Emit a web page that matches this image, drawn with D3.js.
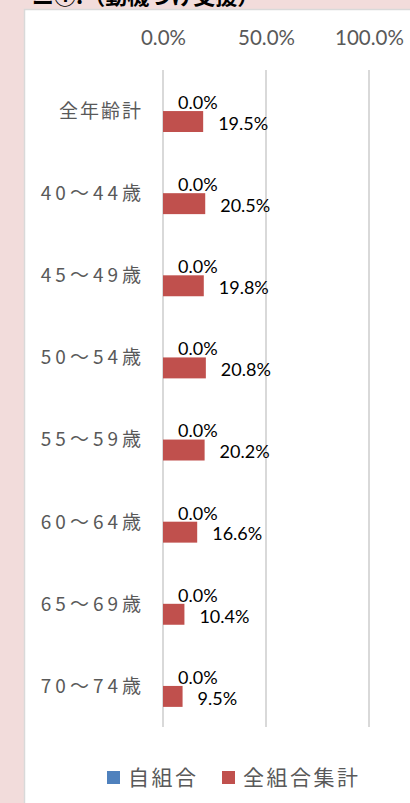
<!DOCTYPE html>
<html>
<head>
<meta charset="utf-8">
<script src="https://cdn.jsdelivr.net/npm/d3@7"></script>
<style>
  html, body { margin: 0; padding: 0; background: #f2dcdb; }
  svg { display: block; }
</style>
</head>
<body>
<div id="chart"></div>
<script>
// データ
const categories = ["全年齢計", "40～44歳", "45～49歳", "50～54歳", "55～59歳", "60～64歳", "65～69歳", "70～74歳"];
const seriesNames = ["自組合", "全組合集計"];
const ownValues = [0, 0, 0, 0, 0, 0, 0, 0];
const allValues = [19.5, 20.5, 19.8, 20.8, 20.2, 16.6, 10.4, 9.5];
const tickValues = [0, 50, 100];
const colors = ["#4f81bd", "#c0504d"];

const width = 410, height = 803;
const jpFont = "'Noto Sans CJK JP', 'Noto Sans', sans-serif";
const numFont = "Lato, 'Open Sans', sans-serif";

const svg = d3.select("#chart").append("svg")
    .attr("width", width)
    .attr("height", height);

// 背景
svg.append("rect").attr("width", width).attr("height", height).attr("fill", "#f2dcdb");

// 切れているタイトル
svg.append("text")
    .attr("x", 32).attr("y", 4)
    .attr("font-family", jpFont).attr("font-size", 22).attr("font-weight", "bold")
    .attr("fill", "#000")
    .text("ニ①.（動機づけ支援）");

// 白いパネル
svg.append("rect")
    .attr("x", 24.5).attr("y", 9.5)
    .attr("width", 400).attr("height", 800)
    .attr("fill", "#fff")
    .attr("stroke", "#d9d9d9").attr("stroke-width", 1.5);

// スケール
const x = d3.scaleLinear().domain([0, 100]).range([163, 369]);
const y = d3.scaleBand().domain(categories).range([70, 727])
    .paddingInner(0.49).paddingOuter(0.245);
const ySub = d3.scaleBand().domain(seriesNames).range([0, y.bandwidth()]);

// グリッド線
svg.append("g").selectAll("line")
    .data(tickValues)
    .join("line")
    .attr("x1", d => x(d)).attr("x2", d => x(d))
    .attr("y1", 70).attr("y2", 727)
    .attr("stroke", "#d9d9d9").attr("stroke-width", 2);

// 上の軸ラベル
const xAxis = svg.append("g")
    .attr("transform", "translate(0,45)")
    .call(d3.axisTop(x).tickValues(tickValues).tickFormat(d => d.toFixed(1) + "%").tickSize(0).tickPadding(0));
xAxis.select(".domain").remove();
xAxis.selectAll("text")
    .attr("font-family", numFont).attr("font-size", 20.5)
    .attr("fill", "#595959").attr("dy", 0);

// カテゴリラベル
svg.append("g").selectAll("text")
    .data(categories)
    .join("text")
    .attr("text-anchor", "end")
    .attr("font-family", jpFont).attr("font-size", 19)
    .attr("fill", "#595959")
    .attr("letter-spacing", d => /\d/.test(d) ? 4 : 2)
    .attr("x", d => 141 + (/\d/.test(d) ? 4 : 2))
    .attr("y", d => y(d) + y.bandwidth() / 2)
    .attr("dy", "0.36em")
    .text(d => d);

// 棒
const rows = categories.map((c, i) => ({ cat: c, vals: [ownValues[i], allValues[i]] }));
const groups = svg.append("g").selectAll("g")
    .data(rows)
    .join("g")
    .attr("transform", d => `translate(0,${y(d.cat)})`);

groups.selectAll("rect")
    .data(d => d.vals.map((v, j) => ({ name: seriesNames[j], v: v, color: colors[j] })))
    .join("rect")
    .attr("x", x(0))
    .attr("y", d => ySub(d.name))
    .attr("width", d => x(d.v) - x(0))
    .attr("height", ySub.bandwidth())
    .attr("fill", d => d.color);

// データラベル
groups.selectAll("text")
    .data(d => d.vals.map((v, j) => ({ name: seriesNames[j], v: v })))
    .join("text")
    .attr("x", d => x(d.v) + 15)
    .attr("y", d => ySub(d.name) + ySub.bandwidth() / 2 + 2)
    .attr("dy", "0.35em")
    .attr("font-family", numFont).attr("font-size", 18)
    .attr("fill", "#000")
    .text(d => d.v.toFixed(1) + "%");

// 凡例
const legendX = [107, 222];
const legend = svg.append("g").selectAll("g")
    .data(seriesNames)
    .join("g")
    .attr("transform", (d, i) => `translate(${legendX[i]},771)`);
legend.append("rect")
    .attr("width", 13).attr("height", 13)
    .attr("fill", (d, i) => colors[i]);
legend.append("text")
    .attr("x", 21).attr("y", 6.5).attr("dy", "0.36em")
    .attr("font-family", jpFont).attr("font-size", 21)
    .attr("letter-spacing", 2.5)
    .attr("fill", "#595959")
    .text(d => d);
</script>
</body>
</html>
